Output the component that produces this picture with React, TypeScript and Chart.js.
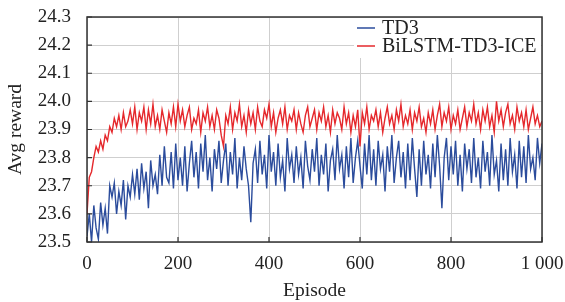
import React, { useEffect, useRef } from "react";
import { Chart, registerables } from "chart.js";

Chart.register(...registerables);

const EPISODE_STEP = 5;
const X_TICKS = [0, 200, 400, 600, 800, 1000];
const Y_TICKS = [23.5, 23.6, 23.7, 23.8, 23.9, 24.0, 24.1, 24.2, 24.3];
const SERIES_NAMES = ["TD3", "BiLSTM-TD3-ICE"];

const TD3 = [
  23.52, 23.60, 23.50, 23.63, 23.55, 23.51, 23.64, 23.56, 23.62, 23.53, 23.70,
  23.66, 23.71, 23.60, 23.68, 23.63, 23.72, 23.58, 23.70, 23.66, 23.74,
  23.67, 23.76, 23.65, 23.78, 23.69, 23.75, 23.62, 23.79, 23.70, 23.74,
  23.67, 23.81, 23.70, 23.84, 23.73, 23.71, 23.82, 23.69, 23.85, 23.72,
  23.80, 23.70, 23.84, 23.68, 23.78, 23.86, 23.73, 23.82, 23.69, 23.85,
  23.75, 23.88, 23.72, 23.80, 23.68, 23.83, 23.76, 23.86, 23.71, 23.79,
  23.85, 23.70, 23.82, 23.74, 23.87, 23.69, 23.80, 23.72, 23.84, 23.76,
  23.70, 23.57, 23.78, 23.83, 23.71, 23.86, 23.74, 23.81, 23.69, 23.88,
  23.75, 23.82, 23.70, 23.85, 23.73, 23.79, 23.68, 23.87, 23.76, 23.81,
  23.71, 23.84, 23.74, 23.80, 23.69, 23.86, 23.77, 23.72, 23.83, 23.75,
  23.87, 23.70, 23.81, 23.74, 23.85, 23.68, 23.79, 23.83, 23.72, 23.88,
  23.76, 23.81, 23.69, 23.84, 23.73, 23.87, 23.71, 23.80, 23.86, 23.77,
  23.69, 23.85, 23.74, 23.88, 23.72, 23.83, 23.70, 23.86, 23.76, 23.81,
  23.68, 23.84, 23.75, 23.88, 23.71, 23.80, 23.86, 23.73, 23.82, 23.69,
  23.85, 23.72, 23.87, 23.76, 23.66, 23.83, 23.70, 23.86, 23.74, 23.81,
  23.69, 23.85, 23.73, 23.88, 23.77, 23.62, 23.80, 23.87, 23.72, 23.84,
  23.74, 23.86, 23.70, 23.81, 23.68, 23.85, 23.76, 23.83, 23.71, 23.87,
  23.73, 23.80, 23.69, 23.86, 23.75, 23.82, 23.70, 23.88, 23.74, 23.79,
  23.68, 23.85, 23.72, 23.83, 23.70, 23.87, 23.75, 23.81, 23.69, 23.86,
  23.73, 23.84, 23.71, 23.88, 23.76, 23.80, 23.72, 23.87, 23.78, 23.85,
];

const BILSTM = [
  23.60, 23.73, 23.75, 23.80, 23.84, 23.82, 23.86, 23.83, 23.88, 23.86, 23.91,
  23.89, 23.94, 23.91, 23.95, 23.90, 23.96, 23.91, 23.93, 23.97, 23.92,
  23.98, 23.90, 23.96, 23.93, 23.98, 23.90, 23.97, 23.92, 23.99, 23.91,
  23.95, 23.90, 23.97, 23.93, 23.89, 23.96, 23.92, 23.98, 23.91, 23.99,
  23.93, 23.97, 23.91, 23.95, 23.98, 23.90, 23.94, 23.92, 23.97, 23.89,
  23.96, 23.93, 23.98, 23.91, 23.95, 23.90, 23.97, 23.94, 23.88, 23.84,
  23.95, 23.92, 23.98, 23.90, 23.96, 23.93, 23.99, 23.91, 23.95, 23.89,
  23.97, 23.92, 23.96, 23.90, 23.98, 23.93, 23.91, 23.97, 23.94, 23.99,
  23.91, 23.96, 23.89, 23.94, 23.97, 23.92, 23.98, 23.90, 23.95, 23.93,
  23.97, 23.90, 23.96, 23.92, 23.89, 23.95, 23.98, 23.91, 23.94, 23.97,
  23.90, 23.96, 23.93, 23.98, 23.91, 23.95, 23.89, 23.97, 23.92, 23.96,
  23.94, 23.90, 23.98, 23.92, 23.96, 23.89, 23.95, 23.91, 23.97, 23.84,
  23.96, 23.92, 23.98, 23.90, 23.95, 23.93, 23.97, 23.91, 23.96, 23.89,
  23.94, 23.98, 23.92, 23.95, 23.90, 23.97, 23.93, 23.99, 23.91, 23.95,
  23.92, 23.97, 23.90, 23.96, 23.93, 23.98, 23.91, 23.94, 23.89, 23.96,
  23.92, 23.97, 23.90, 23.95, 23.99, 23.91, 23.96, 23.93, 23.98, 23.90,
  23.95, 23.92, 23.97, 23.90, 23.94, 23.98, 23.91, 23.96, 23.93, 23.99,
  23.92, 23.96, 23.90, 23.97, 23.93, 23.98, 23.91, 23.95, 23.89, 24.00,
  23.93, 23.97, 23.91, 23.96, 23.99, 23.92, 23.95, 23.90, 23.98, 23.93,
  23.96, 23.91, 23.97, 23.90, 23.94, 23.98, 23.92, 23.95, 23.91, 23.93,
];

const BLUE = "#2b4c9c";
const RED = "#e5282c";
const FONT = "'Liberation Serif', 'Times New Roman', serif";

const toPoints = (arr: number[]) => arr.map((y, i) => ({ x: i * EPISODE_STEP, y }));

const framePlugin = {
  id: "frame",
  afterDatasetsDraw(chart: any) {
    const { ctx, chartArea: a, scales } = chart;
    ctx.save();
    // legend box
    const lx = 354;
    ctx.fillStyle = "#ffffff";
    ctx.fillRect(lx, a.top + 1, a.right - lx - 1, 40);
    const items = [
      { name: SERIES_NAMES[0], color: BLUE, y: 28 },
      { name: SERIES_NAMES[1], color: RED, y: 46 },
    ];
    ctx.font = `20px ${FONT}`;
    ctx.textBaseline = "middle";
    ctx.textAlign = "left";
    for (const it of items) {
      ctx.strokeStyle = it.color;
      ctx.lineWidth = 1.5;
      ctx.beginPath();
      ctx.moveTo(357, it.y);
      ctx.lineTo(375, it.y);
      ctx.stroke();
      ctx.fillStyle = "#222";
      ctx.fillText(it.name, 382, it.y + 1);
    }
    // frame
    ctx.strokeStyle = "#333";
    ctx.lineWidth = 1.5;
    ctx.strokeRect(a.left, a.top, a.right - a.left, a.bottom - a.top);
    // inward ticks
    ctx.lineWidth = 1.2;
    ctx.beginPath();
    for (const v of X_TICKS) {
      const px = scales.x.getPixelForValue(v);
      ctx.moveTo(px, a.bottom);
      ctx.lineTo(px, a.bottom - 5);
    }
    for (const v of Y_TICKS) {
      const py = scales.y.getPixelForValue(v);
      ctx.moveTo(a.left, py);
      ctx.lineTo(a.left + 5, py);
    }
    ctx.stroke();
    ctx.restore();
  },
};

export default function App() {
  const ref = useRef<HTMLCanvasElement>(null);
  useEffect(() => {
    document.body.style.margin = "0";
    const chart = new Chart(ref.current!, {
      type: "line",
      data: {
        datasets: [
          {
            label: SERIES_NAMES[0],
            data: toPoints(TD3),
            borderColor: BLUE,
            borderWidth: 1.4,
            pointRadius: 0,
            tension: 0,
          },
          {
            label: SERIES_NAMES[1],
            data: toPoints(BILSTM),
            borderColor: RED,
            borderWidth: 1.4,
            pointRadius: 0,
            tension: 0,
          },
        ],
      },
      options: {
        animation: false,
        responsive: false,
        events: [],
        layout: { padding: { top: 17, right: 23, left: 0, bottom: 0 } },
        plugins: { legend: { display: false }, tooltip: { enabled: false } },
        scales: {
          x: {
            type: "linear",
            min: 0,
            max: 1000,
            afterBuildTicks: (s: any) => {
              s.ticks = X_TICKS.map((v) => ({ value: v }));
            },
            afterFit: (s: any) => {
              s.height = 60;
              s.paddingLeft = 0;
              s.paddingRight = 0;
            },
            ticks: {
              font: { family: FONT, size: 19 },
              color: "#222",
              padding: 11,
              maxRotation: 0,
              callback: (v: any) => (v === 1000 ? "1 000" : String(v)),
            },
            grid: { color: "#cfcfcf", lineWidth: 1, drawTicks: false },
            border: { display: false },
            title: {
              display: true,
              text: "Episode",
              font: { family: FONT, size: 19.5 },
              color: "#222",
              padding: { top: 0, bottom: -1 },
            },
          },
          y: {
            type: "linear",
            min: 23.5,
            max: 24.3,
            afterBuildTicks: (s: any) => {
              s.ticks = Y_TICKS.map((v) => ({ value: v }));
            },
            afterFit: (s: any) => {
              s.width = 87;
              s.paddingTop = 0;
              s.paddingBottom = 0;
            },
            ticks: {
              font: { family: FONT, size: 19 },
              color: "#222",
              padding: 16,
              callback: (v: any) => Number(v).toFixed(1),
            },
            grid: { color: "#cfcfcf", lineWidth: 1, drawTicks: false },
            border: { display: false },
            title: {
              display: true,
              text: "Avg reward",
              font: { family: FONT, size: 19.5 },
              color: "#222",
              padding: { top: 4, bottom: 0 },
            },
          },
        },
      },
      plugins: [framePlugin],
    } as any);
    return () => chart.destroy();
  }, []);
  return (
    <div style={{ width: 565, height: 302, background: "#fff" }}>
      <canvas ref={ref} width={565} height={302} style={{ display: "block" }} />
    </div>
  );
}
